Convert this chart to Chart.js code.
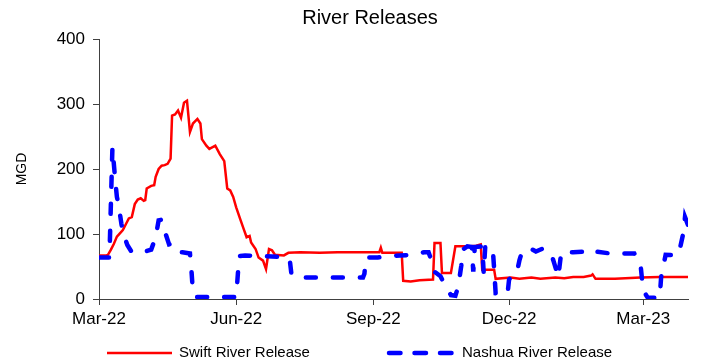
<!DOCTYPE html>
<html>
<head>
<meta charset="utf-8">
<title>River Releases</title>
<script src="https://cdn.jsdelivr.net/npm/chart.js@4.4.1/dist/chart.umd.min.js"></script>
<style>
  html, body { margin: 0; padding: 0; background: #ffffff; }
  #wrap { width: 704px; height: 362px; }
</style>
</head>
<body>
<div id="wrap"><canvas id="chart" width="704" height="362"></canvas></div>
<script>
// Days counted from 1 March 2022; flows in million gallons per day (MGD).
const monthTickDays = [0, 92, 184, 275, 365];
const monthTickLabels = ['Mar-22', 'Jun-22', 'Sep-22', 'Dec-22', 'Mar-23'];
const yTickValues = [0, 100, 200, 300, 400];

const swiftDays = [0, 5, 6, 8, 10, 12, 14, 16, 18, 20, 22, 24, 26, 28, 30, 31, 32, 35, 37, 38, 40, 42, 44, 46, 48,
  49, 51, 53, 55, 57, 59, 61, 63, 66, 68, 69, 72, 74, 78, 81, 84, 86, 88, 90, 92, 95, 97, 99, 101, 102, 105, 107,
  110, 112, 114, 116, 118, 124, 127, 135, 148, 160, 182, 188, 189, 190, 203, 204, 209, 215, 224, 225, 229, 230,
  236, 239, 249, 253, 256, 257, 265, 266, 276, 282, 290, 296, 306, 312, 318, 325, 330, 331, 333, 346, 353, 363,
  376, 395];
const swiftMgd = [67, 67, 68, 76, 85, 96, 101, 106, 115, 124, 126, 146, 153, 155, 151, 152, 170, 174, 175, 188, 200,
  205, 206, 208, 216, 282, 284, 290, 279, 302, 305, 257, 270, 277, 270, 246, 236, 231, 236, 223, 212, 170, 167, 157,
  141, 121, 108, 95, 97, 87, 77, 64, 59, 46, 77, 75, 68, 67, 71, 72, 71, 72, 72, 72, 79, 71, 71, 28, 27, 29, 30, 86,
  86, 40, 40, 81, 81, 82, 84, 45, 45, 31, 33, 31, 33, 31, 33, 32, 34, 34, 36, 38, 31, 31, 32, 33, 34, 34];

const nashuaDays = [0, 7, 9, 11, 12, 13, 15, 16, 19, 22, 31, 35, 38, 40, 42, 44, 47, 49, 51, 53, 56, 61, 62, 63,
  65, 92, 94, 98, 108, 122, 127, 128, 129, 131, 137, 177, 178, 179, 187, 194, 202, 211, 218, 221, 223, 225, 229,
  232, 236, 239, 241, 243, 244, 247, 250, 251, 252, 257, 258, 259, 264, 265, 266, 274, 275, 277, 280, 282, 284,
  290, 293, 297, 301, 303, 305, 307, 308, 310, 318, 329, 330, 333, 343, 351, 359, 361, 363, 364, 365, 368, 376,
  377, 380, 388, 390, 392, 393, 395];
const nashuaMgd = [64, 64, 233, 180, 157, 147, 116, 103, 83, 72, 73, 76, 95, 121, 122, 105, 84, 85, 76, 72, 72, 70,
  44, 10, 3, 3, 66, 67, 66, 65, 64, 59, 39, 34, 33, 33, 39, 64, 64, 66, 67, 68, 72, 72, 59, 42, 35, 21, 6, 5, 20,
  52, 76, 81, 80, 42, 80, 81, 40, 80, 80, 46, 9, 8, 30, 35, 38, 60, 75, 77, 73, 77, 74, 72, 57, 42, 34, 72, 72, 73,
  76, 73, 70, 70, 70, 62, 57, 34, 13, 2, 2, 34, 68, 67, 82, 103, 126, 114];

const toPoints = (days, vals) => days.map((d, i) => ({ x: d, y: vals[i] }));

const FONT = '"Liberation Sans", Arial, Helvetica, sans-serif';
const AXIS_COLOR = '#404040';

// Title and legend drawn straight onto the canvas after the chart.
const decorPlugin = {
  id: 'decor',
  afterDraw(chart, args, opts) {
    const ctx = chart.ctx;
    ctx.save();
    ctx.fillStyle = '#000000';
    ctx.textBaseline = 'middle';
    ctx.textAlign = 'center';
    ctx.font = `${opts.titleSize}px ${FONT}`;
    ctx.fillText(opts.title, opts.titleX, opts.titleY);

    ctx.textAlign = 'left';
    ctx.font = `${opts.legendSize}px ${FONT}`;
    opts.legendItems.forEach(item => {
      const ds = chart.data.datasets[item.dataset];
      ctx.save();
      ctx.strokeStyle = ds.borderColor;
      ctx.lineWidth = ds.borderWidth;
      ctx.lineCap = item.cap;
      ctx.setLineDash(item.dash);
      ctx.beginPath();
      ctx.moveTo(item.x, opts.legendY);
      ctx.lineTo(item.x + item.len, opts.legendY);
      ctx.stroke();
      ctx.restore();
      ctx.fillStyle = '#000000';
      ctx.fillText(ds.label, item.x + item.len + 7, opts.legendY);
    });
    ctx.restore();
  }
};

new Chart(document.getElementById('chart'), {
  type: 'line',
  data: {
    datasets: [
      {
        label: 'Swift River Release',
        data: toPoints(swiftDays, swiftMgd),
        borderColor: '#ff0000',
        borderWidth: 2.5,
        pointRadius: 0,
        tension: 0,
        order: 1
      },
      {
        label: 'Nashua River Release',
        data: toPoints(nashuaDays, nashuaMgd),
        borderColor: '#0000ff',
        borderWidth: 4.5,
        borderDash: [10, 17],
        borderCapStyle: 'round',
        pointRadius: 0,
        tension: 0,
        order: 0
      }
    ]
  },
  options: {
    responsive: false,
    animation: false,
    events: [],
    layout: { padding: { top: 39, right: 16, bottom: 0, left: 0 } },
    scales: {
      x: {
        type: 'linear',
        min: 0,
        max: 395,
        afterBuildTicks(scale) {
          scale.ticks = monthTickDays.map(v => ({ value: v }));
        },
        afterFit(scale) { scale.height = 63; },
        ticks: {
          autoSkip: false,
          maxRotation: 0,
          padding: 4,
          color: '#000000',
          font: { family: FONT, size: 17 },
          callback: (value) => monthTickLabels[monthTickDays.indexOf(value)]
        },
        grid: { drawOnChartArea: false, drawTicks: true, tickLength: 6, color: AXIS_COLOR },
        border: { display: true, color: AXIS_COLOR, width: 1 }
      },
      y: {
        min: 0,
        max: 400,
        afterBuildTicks(scale) {
          scale.ticks = yTickValues.map(v => ({ value: v }));
        },
        afterFit(scale) { scale.width = 99; },
        ticks: {
          padding: 8,
          color: '#000000',
          font: { family: FONT, size: 17 }
        },
        grid: { drawOnChartArea: false, drawTicks: true, tickLength: 6, color: AXIS_COLOR },
        border: { display: true, color: AXIS_COLOR, width: 1 },
        title: {
          display: true,
          text: 'MGD',
          color: '#000000',
          font: { family: FONT, size: 14 },
          padding: { top: 13.6, bottom: 0 }
        }
      }
    },
    plugins: {
      legend: { display: false },
      title: { display: false },
      tooltip: { enabled: false },
      decor: {
        title: 'River Releases',
        titleX: 370,
        titleY: 18,
        titleSize: 20,
        legendY: 353,
        legendSize: 15,
        legendItems: [
          { dataset: 0, x: 107, len: 65, dash: [], cap: 'butt' },
          { dataset: 1, x: 389, len: 66, dash: [11.5, 14], cap: 'round' }
        ]
      }
    }
  },
  plugins: [decorPlugin]
});
</script>
</body>
</html>
